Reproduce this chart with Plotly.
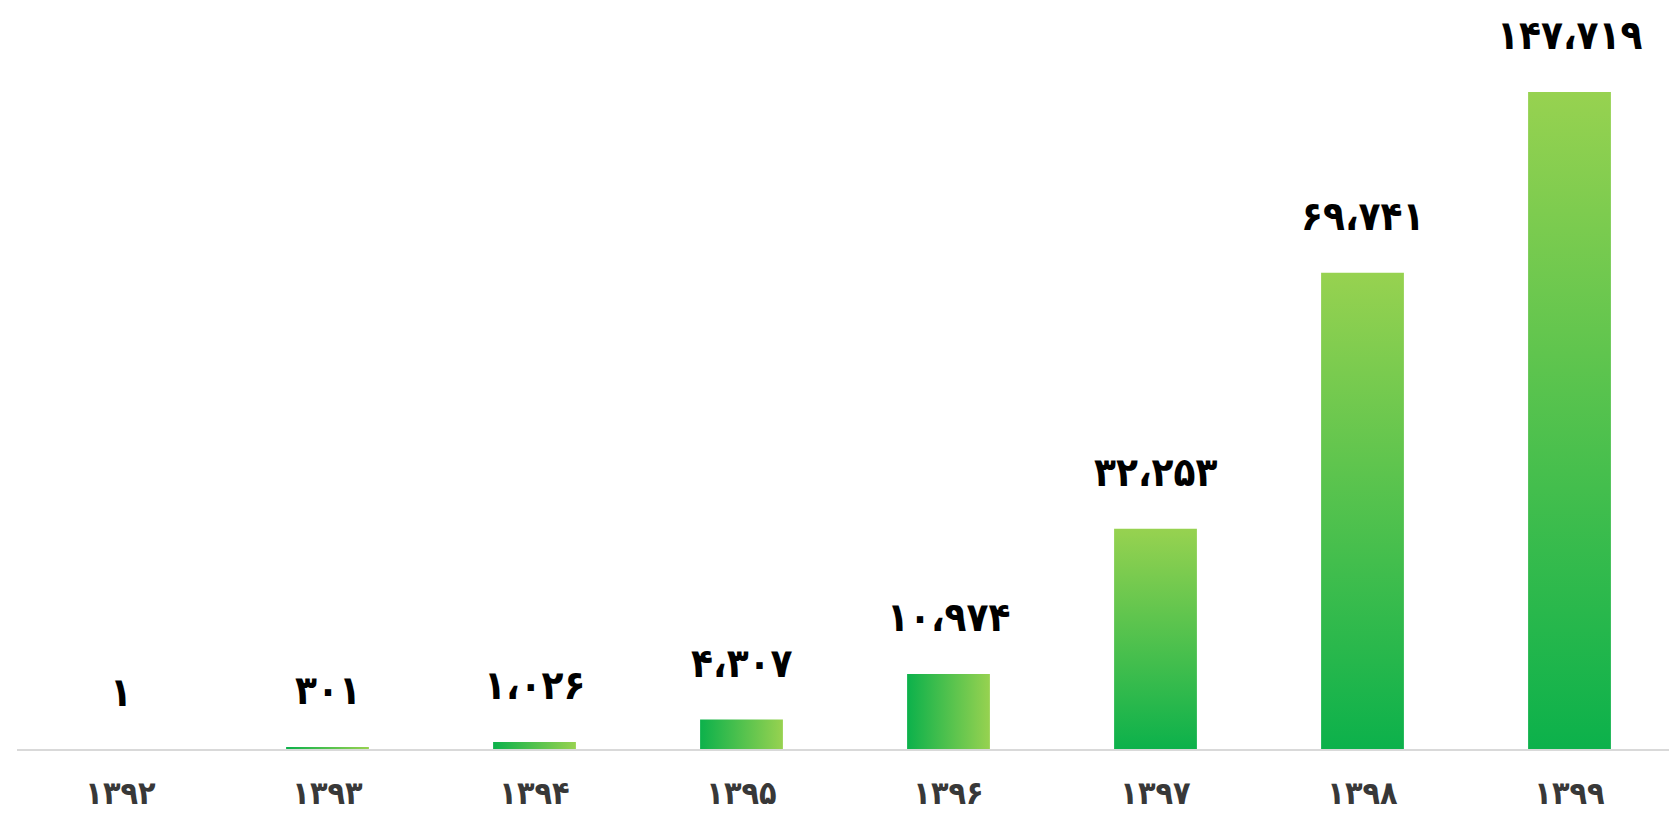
import plotly.graph_objects as go

# ---- data ----
years = ["1392", "1393", "1394", "1395", "1396", "1397", "1398", "1399"]
values = [1, 301, 1026, 4307, 10974, 32253, 69741, 147719]

# ---- style / layout constants ----
W, H = 1677, 822
PAGE_OFF = 8           # default body margin of the html page
M_L, M_R, M_T, M_B = 17 - PAGE_OFF, 4 + PAGE_OFF, 92 - PAGE_OFF, 73 + PAGE_OFF
PLOT_W = W - M_L - M_R
PLOT_H = H - M_T - M_B
Y_MAX = 96200          # axis top: the tallest bar is cut by the plot edge, as in the reference
BAR_W = 0.40           # bar width in category units
DARK, LIGHT = "#0cb14b", "#97d250"
FONT = "DejaVu Sans Condensed, DejaVu Sans"

fa_digits = str.maketrans("0123456789,", "۰۱۲۳۴۵۶۷۸۹،")


def fa(s):
    return str(s).translate(fa_digits)


fig = go.Figure()

cat_px = PLOT_W / len(years)
for i, v in enumerate(values):
    shown = min(v, Y_MAX)
    h_px = shown / Y_MAX * PLOT_H
    vertical = h_px > BAR_W * cat_px
    grad = dict(
        type="vertical" if vertical else "horizontal",
        colorscale=[[0, DARK], [1, LIGHT]],
    )
    if vertical:
        grad.update(start=0, stop=shown)
    fig.add_trace(go.Scatter(
        x=[i - BAR_W / 2, i + BAR_W / 2, i + BAR_W / 2, i - BAR_W / 2, i - BAR_W / 2],
        y=[0, 0, v, v, 0],
        mode="lines",
        line=dict(width=0),
        fill="toself",
        fillgradient=grad,
        hoverinfo="skip",
        showlegend=False,
    ))
    fig.add_annotation(
        x=i, y=shown, xref="x", yref="y",
        text=fa(f"{v:,}"),
        showarrow=False,
        yanchor="bottom",
        yshift=32,
        font=dict(family=FONT, size=40, color="#000000", weight="bold"),
    )

fig.update_layout(
    width=W, height=H,
    margin=dict(l=M_L, r=M_R, t=M_T, b=M_B),
    paper_bgcolor="white",
    plot_bgcolor="white",
    showlegend=False,
    xaxis=dict(
        range=[-0.5, len(years) - 0.5],
        tickmode="array",
        tickvals=list(range(len(years))),
        ticktext=[fa(y) for y in years],
        tickfont=dict(family=FONT, size=32, color="#383838", weight="bold"),
        showgrid=False,
        zeroline=False,
        showline=True,
        linecolor="#d9d9d9",
        linewidth=2,
        ticks="",
        ticklabelstandoff=15,
        fixedrange=True,
    ),
    yaxis=dict(
        range=[0, Y_MAX],
        visible=False,
        showgrid=False,
        zeroline=False,
        fixedrange=True,
    ),
)

fig.write_html("out.html")
